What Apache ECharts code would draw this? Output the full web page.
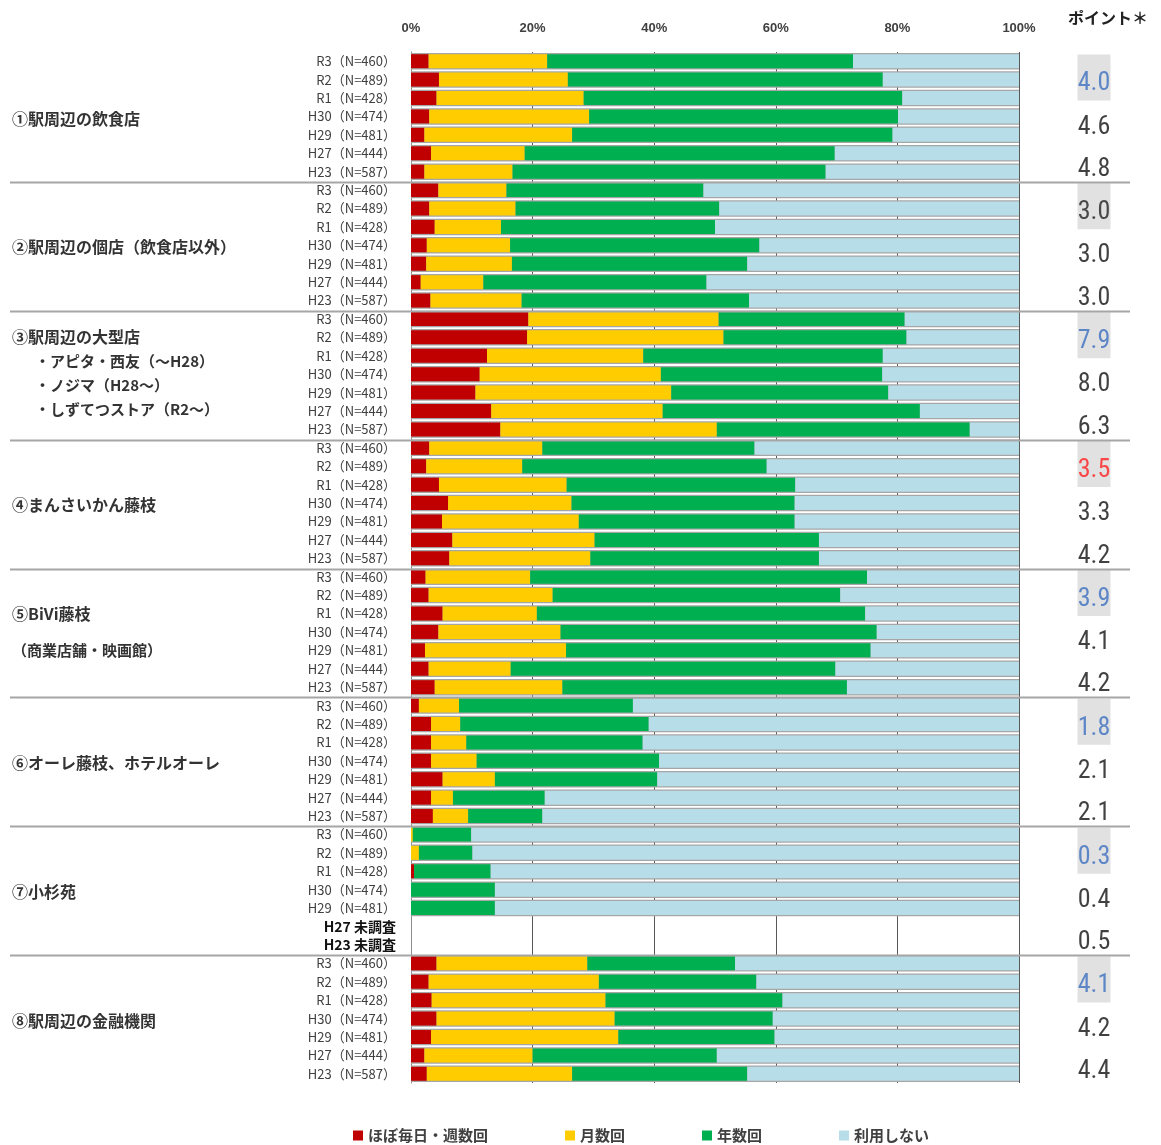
<!DOCTYPE html>
<html><head><meta charset="utf-8">
<script src="https://cdn.jsdelivr.net/npm/echarts@6/dist/echarts.min.js"></script>
<style>html,body{margin:0;padding:0;background:#fff}#c{width:1161px;height:1145px}</style>
</head><body><div id="c"></div>
<script>
// ---- data ----
const surveys = ['R3（N=460）','R2（N=489）','R1（N=428）','H30（N=474）','H29（N=481）','H27（N=444）','H23（N=587）'];
const notSurveyedLabels = {47:'H27 未調査', 48:'H23 未調査'};
const groupNames = [
  ['①駅周辺の飲食店'],
  ['②駅周辺の個店（飲食店以外）'],
  ['③駅周辺の大型店','・アピタ・西友（～H28）','・ノジマ（H28～）','・しずてつストア（R2～）'],
  ['④まんさいかん藤枝'],
  ['⑤BiVi藤枝','（商業店舗・映画館）'],
  ['⑥オーレ藤枝、ホテルオーレ'],
  ['⑦小杉苑'],
  ['⑧駅周辺の金融機関']
];
const seriesNames = ['ほぼ毎日・週数回','月数回','年数回','利用しない'];
const daily = [
  2.9, 4.6, 4.2, 3.0, 2.2, 3.3, 2.2,
  4.5, 3.0, 3.9, 2.6, 2.5, 1.6, 3.2,
  19.3, 19.1, 12.5, 11.3, 10.6, 13.2, 14.7,
  3.0, 2.5, 4.6, 6.1, 5.1, 6.8, 6.3,
  2.4, 2.9, 5.2, 4.5, 2.3, 2.9, 3.9,
  1.3, 3.3, 3.3, 3.3, 5.2, 3.3, 3.6,
  0.0, 0.0, 0.5, 0.0, 0.0, null, null,
  4.2, 2.9, 3.4, 4.2, 3.3, 2.2, 2.6
];
const monthly = [
  19.5, 21.2, 24.2, 26.3, 24.3, 15.4, 14.5,
  11.2, 14.2, 10.9, 13.7, 14.1, 10.3, 15.0,
  31.3, 32.3, 25.7, 29.8, 32.2, 28.2, 35.6,
  18.6, 15.8, 21.0, 20.3, 22.5, 23.4, 23.2,
  17.2, 20.4, 15.5, 20.1, 23.2, 13.5, 21.0,
  6.6, 4.8, 5.8, 7.5, 8.6, 3.6, 5.8,
  0.3, 1.3, 0.0, 0.0, 0.0, null, null,
  24.8, 28.0, 28.6, 29.3, 30.8, 17.8, 23.9
];
const yearly = [
  50.3, 51.8, 52.4, 50.8, 52.7, 51.0, 51.5,
  32.4, 33.5, 35.2, 41.0, 38.7, 36.7, 37.4,
  30.6, 30.1, 39.4, 36.4, 35.7, 42.3, 41.6,
  34.9, 40.2, 37.6, 36.7, 35.5, 36.9, 37.6,
  55.4, 47.3, 54.0, 52.0, 50.1, 53.4, 46.8,
  28.6, 31.0, 29.0, 30.0, 26.7, 15.1, 12.2,
  9.6, 8.8, 12.6, 13.8, 13.8, null, null,
  24.3, 25.9, 29.1, 26.0, 25.7, 30.3, 28.8
];
const never = [
  27.3, 22.4, 19.2, 19.9, 20.8, 30.3, 31.8,
  51.9, 49.3, 50.0, 42.7, 44.7, 51.4, 44.4,
  18.8, 18.5, 22.4, 22.5, 21.5, 16.3, 8.1,
  43.5, 41.5, 36.8, 36.9, 36.9, 32.9, 32.9,
  25.0, 29.4, 25.3, 23.4, 24.4, 30.2, 28.3,
  63.5, 60.9, 61.9, 59.2, 59.5, 78.0, 78.4,
  90.1, 89.9, 86.9, 86.2, 86.2, null, null,
  46.7, 43.2, 38.9, 40.5, 40.2, 49.7, 44.7
];
const pointsLatest = [4.0, 3.0, 7.9, 3.5, 3.9, 1.8, 0.3, 4.1];
const pointsMid    = [4.6, 3.0, 8.0, 3.3, 4.1, 2.1, 0.4, 4.2];
const pointsOld    = [4.8, 3.0, 6.3, 4.2, 4.2, 2.1, 0.5, 4.4];
const latestColors = ['#3c6fc0','#222222','#3c6fc0','#ff2020','#3c6fc0','#3c6fc0','#3c6fc0','#3c6fc0'];
const xTicks = [0, 20, 40, 60, 80, 100];

// ---- build ----
const colors = ['#c00000','#ffcc00','#00b050','#b7dee8'];
const FONT = '"Noto Sans CJK JP", "Noto Sans", sans-serif';
const NARROW = '"Liberation Sans Narrow", "Arial Narrow", "Roboto Condensed", sans-serif';
const nRows = groupNames.length * surveys.length;
const rowKeys = Array.from({length: nRows}, (_, i) => String(i));
const rowLabels = rowKeys.map((k, i) => notSurveyedLabels[i] || surveys[i % surveys.length]);
const totals = rowKeys.map((k, i) => {
  const v = [daily[i], monthly[i], yearly[i], never[i]];
  return v.every(x => x == null) ? null : v.reduce((a, b) => a + (b || 0), 0);
});
const valueArrays = [daily, monthly, yearly, never];

const chart = echarts.init(document.getElementById('c'), null, {renderer: 'canvas'});

const pointBoxes = [], pointTexts = [];
const G = surveys.length;
groupNames.forEach((n, g) => {
  pointBoxes.push([0.5, g * G + 1.38]);
  pointTexts.push({value: [0.5, g * G + 1.73, pointsLatest[g]], label: {color: latestColors[g]}});
  pointTexts.push({value: [0.5, g * G + 4.08, pointsMid[g]], label: {color: '#111'}});
  pointTexts.push({value: [0.5, g * G + 6.38, pointsOld[g]], label: {color: '#111'}});
});

const option = {
  backgroundColor: '#fff',
  animation: false,
  textStyle: {fontFamily: FONT},
  grid: [
    {left: 411, right: 142, top: 52, bottom: 62, containLabel: false},
    {left: 1060, width: 68, top: 52, bottom: 62}
  ],
  legend: {
    data: seriesNames,
    left: 348, top: 1123,
    itemWidth: 10, itemHeight: 10, itemGap: 77,
    icon: 'rect',
    textStyle: {fontSize: 15, fontWeight: 'bold', color: '#404040', fontFamily: FONT}
  },
  xAxis: [
    {
      type: 'value', position: 'top', min: 0, max: 100, interval: 20,
      axisLine: {show: false}, axisTick: {show: false},
      axisLabel: {formatter: v => xTicks.includes(v) ? v + '%' : '', fontSize: 13, fontWeight: 'bold', color: '#404040', margin: 17, fontFamily: '"Liberation Sans", Arial, sans-serif'},
      splitLine: {show: true, lineStyle: {color: '#595959', width: 1}}
    },
    {gridIndex: 1, type: 'value', min: 0, max: 1, show: false}
  ],
  yAxis: [
    {
      type: 'category', inverse: true, data: rowKeys,
      axisLine: {show: true, lineStyle: {color: '#8c8c8c', width: 1}},
      axisTick: {show: false},
      splitLine: {show: false},
      axisLabel: {
        interval: 0, margin: 15, fontSize: 13, color: '#404040', fontFamily: FONT,
        formatter: (v) => {
          const i = +v;
          return notSurveyedLabels[i] ? '{ns|' + rowLabels[i] + '}' : rowLabels[i];
        },
        rich: {ns: {fontSize: 14, fontWeight: 'bold', color: '#111', fontFamily: FONT}}
      }
    },
    {type: 'category', inverse: true, data: rowKeys, show: false},
    {gridIndex: 1, type: 'value', min: 0, max: nRows, inverse: true, show: false}
  ],
  series: [
    {
      name: 'bg', type: 'bar', yAxisIndex: 1, data: totals, barWidth: 16.5, silent: true, z: 1,
      itemStyle: {color: '#a6a6a6'}
    },
    ...valueArrays.map((arr, k) => ({
      name: seriesNames[k], type: 'bar', stack: 'total', data: arr, barWidth: 14, z: 2,
      itemStyle: {color: colors[k]}, silent: true
    })),
    {
      name: 'box', type: 'scatter', xAxisIndex: 1, yAxisIndex: 2, data: pointBoxes,
      symbol: 'rect', symbolSize: [33, 46], itemStyle: {color: '#d9d9d9'}, silent: true, z: 1
    },
    {
      name: 'points', type: 'scatter', xAxisIndex: 1, yAxisIndex: 2, data: pointTexts,
      symbolSize: 0, silent: true, z: 3,
      label: {show: true, position: 'inside', formatter: p => p.value[2].toFixed(1), fontSize: 26, fontFamily: NARROW}
    }
  ]
};
chart.setOption(option);

// ---- layout decorations derived from the axis ----
const rowPx = (i) => chart.convertToPixel({yAxisIndex: 0}, i);
const graphics = [];
for (let g = 1; g < groupNames.length; g++) {
  const y = Math.round((rowPx(g * G - 1) + rowPx(g * G)) / 2) + 1.5;
  graphics.push({type: 'line', shape: {x1: 10, y1: y, x2: 1130, y2: y}, style: {stroke: '#a6a6a6', lineWidth: 2}, silent: true, z: 10});
}
groupNames.forEach((lines, g) => {
  let ys;
  if (lines.length === 1) ys = [rowPx(g * G + 3) + 2];
  else if (lines.length === 2) ys = [rowPx(g * G + 2), rowPx(g * G + 4)];
  else { const y0 = rowPx(g * G + 1); ys = lines.map((l, k) => y0 + 24 * k); }
  lines.forEach((t, k) => {
    const sub = k > 0;
    const indent = sub && lines.length > 2;
    graphics.push({
      type: 'text', x: indent ? 35 : 12, y: ys[k],
      style: {text: t, fontSize: sub ? 15 : 16, fontWeight: 'bold', fill: '#333', fontFamily: FONT, verticalAlign: 'middle', align: 'left'},
      silent: true
    });
  });
});
graphics.push({
  type: 'text', x: 1108, y: 18,
  style: {text: 'ポイント＊', fontSize: 16, fontWeight: 'bold', fill: '#222', fontFamily: FONT, align: 'center', verticalAlign: 'middle'},
  silent: true
});
chart.setOption({graphic: graphics});
</script></body></html>
